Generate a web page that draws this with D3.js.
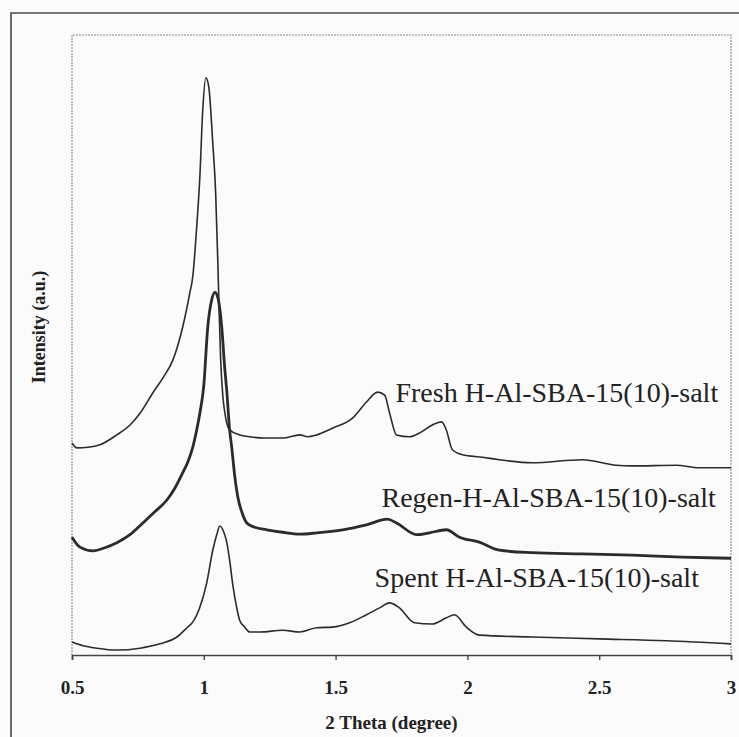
<!DOCTYPE html>
<html>
<head>
<meta charset="utf-8">
<script src="https://cdn.jsdelivr.net/npm/d3@7"></script>
<style>
  html, body { margin: 0; padding: 0; background: #fbfbfb; }
  svg { display: block; }
</style>
</head>
<body>
<div id="chart"></div>
<script>
// ---- data (2 theta in degrees, intensity in arbitrary units) ----
const xTicks = [0.5, 1, 1.5, 2, 2.5, 3];
const xTickLabels = ["0.5", "1", "1.5", "2", "2.5", "3"];
const seriesNames = ["Fresh H-Al-SBA-15(10)-salt", "Regen-H-Al-SBA-15(10)-salt", "Spent H-Al-SBA-15(10)-salt"];

const freshTheta = [0.500,0.519,0.561,0.606,0.670,0.720,0.758,0.807,0.845,0.883,0.920,0.947,0.958,0.973,0.985,0.996,1.008,1.019,1.034,1.045,1.053,1.057,1.064,1.072,1.080,1.098,1.136,1.174,1.231,1.299,1.364,1.394,1.428,1.489,1.564,1.617,1.659,1.686,1.705,1.731,1.780,1.818,1.867,1.902,1.920,1.943,1.981,2.057,2.121,2.246,2.436,2.564,2.625,2.792,2.879,3.000];
const freshI     = [34.2,33.4,33.5,33.9,35.5,37.1,39.0,42.3,44.7,47.6,52.9,58.4,61.0,69.0,77.1,87.9,93.1,91.6,82.6,74.5,63.7,57.3,47.6,41.9,39.0,36.3,35.5,35.2,35.0,35.0,35.5,35.2,35.5,36.6,38.2,40.8,42.4,41.9,39.0,35.5,35.2,35.8,37.1,37.6,36.3,33.1,32.3,31.9,31.5,31.0,31.5,30.6,30.5,30.6,30.2,30.2];

const regenTheta = [0.500,0.530,0.580,0.625,0.670,0.720,0.769,0.814,0.860,0.890,0.920,0.939,0.958,0.973,0.985,1.000,1.015,1.030,1.042,1.053,1.068,1.080,1.087,1.098,1.106,1.117,1.129,1.144,1.163,1.193,1.239,1.299,1.364,1.428,1.527,1.617,1.697,1.731,1.807,1.856,1.920,1.970,2.045,2.121,2.246,2.436,2.625,2.814,3.000];
const regenI     = [19.0,17.4,16.8,17.3,18.1,19.4,21.3,23.1,25.0,26.9,29.4,31.1,33.5,36.3,39.0,43.5,52.9,57.3,58.5,57.7,52.9,46.0,42.7,36.3,33.5,29.0,25.5,23.1,21.3,20.6,20.2,19.8,19.5,19.7,20.2,21.0,21.9,21.3,19.4,19.7,20.2,19.0,18.2,16.9,16.5,16.3,16.1,15.8,15.6];

const spentTheta = [0.500,0.542,0.595,0.670,0.758,0.833,0.898,0.936,0.958,0.985,1.011,1.034,1.049,1.061,1.076,1.087,1.098,1.110,1.125,1.136,1.155,1.174,1.212,1.299,1.364,1.428,1.489,1.553,1.617,1.667,1.705,1.742,1.799,1.867,1.920,1.951,1.996,2.045,2.246,2.500,2.754,3.000];
const spentI     = [2.1,1.5,1.1,0.8,1.1,1.8,2.9,4.4,5.3,7.7,11.6,16.9,19.4,20.8,19.8,18.2,15.3,11.3,7.6,5.6,4.5,3.7,3.7,4.0,3.7,4.4,4.5,5.2,6.5,7.6,8.4,7.6,5.2,5.0,6.0,6.5,4.5,3.2,2.9,2.6,2.3,1.8];

// ---- layout ----
const W = 739, H = 737;
const plot = { left: 72, right: 731, top: 35, bottom: 655 };

const svg = d3.select("#chart").append("svg")
  .attr("width", W).attr("height", H)
  .style("font-family", "'Liberation Serif', 'DejaVu Serif', serif");

svg.append("rect").attr("width", W).attr("height", H).attr("fill", "#fbfbfb");

// outer frame (extends beyond the page at right and bottom)
svg.append("path")
  .attr("d", `M11,${H + 5} L11,13 L${W + 5},13`)
  .attr("fill", "none").attr("stroke", "#4a4a4a").attr("stroke-width", 1.6);

const x = d3.scaleLinear().domain([0.5, 3]).range([plot.left, plot.right]);
const y = d3.scaleLinear().domain([0, 100]).range([plot.bottom, plot.top]);

// plot area border (dotted, grey) on left, top, right
svg.append("path")
  .attr("d", `M${plot.left},${plot.bottom} L${plot.left},${plot.top} L${plot.right},${plot.top} L${plot.right},${plot.bottom}`)
  .attr("fill", "none").attr("stroke", "#8a8a8a").attr("stroke-width", 1.1)
  .attr("stroke-dasharray", "2,1");

// x axis
const xAxis = d3.axisBottom(x)
  .tickValues(xTicks)
  .tickFormat((d, i) => xTickLabels[i])
  .tickSize(5)
  .tickPadding(21);

const gx = svg.append("g")
  .attr("transform", `translate(0,${plot.bottom})`)
  .call(xAxis);
gx.select(".domain").attr("stroke", "#444").attr("stroke-width", 1.6);
gx.selectAll(".tick line").attr("stroke", "#444").attr("stroke-width", 1.4);
gx.selectAll(".tick text")
  .attr("fill", "#222")
  .style("font-family", "'Liberation Serif', serif")
  .style("font-weight", "bold")
  .style("font-size", "19px");

// axis titles
svg.append("text")
  .attr("x", (plot.left + plot.right) / 2 - 10)
  .attr("y", 729)
  .attr("text-anchor", "middle")
  .attr("fill", "#222")
  .style("font-weight", "bold")
  .style("font-size", "19px")
  .text("2 Theta (degree)");

svg.append("text")
  .attr("transform", "translate(45,327) rotate(-90)")
  .attr("text-anchor", "middle")
  .attr("fill", "#222")
  .style("font-weight", "bold")
  .style("font-size", "18px")
  .text("Intensity (a.u.)");

// series lines
const line = d3.line()
  .x(d => x(d[0]))
  .y(d => y(d[1]))
  .curve(d3.curveMonotoneX);

const series = [
  { theta: freshTheta, I: freshI, width: 1.6 },
  { theta: regenTheta, I: regenI, width: 2.8 },
  { theta: spentTheta, I: spentI, width: 1.6 }
];

series.forEach(s => {
  const pts = s.theta.map((t, i) => [t, s.I[i]]);
  svg.append("path")
    .datum(pts)
    .attr("d", line)
    .attr("fill", "none")
    .attr("stroke", "#2b2b2b")
    .attr("stroke-width", s.width)
    .attr("stroke-linejoin", "round");
});

// series labels (anchored at left baseline)
const labelPos = [
  { theta: 1.727, I: 40.8 },
  { theta: 1.674, I: 23.9 },
  { theta: 1.648, I: 10.9 }
];
seriesNames.forEach((name, i) => {
  svg.append("text")
    .attr("x", x(labelPos[i].theta))
    .attr("y", y(labelPos[i].I))
    .attr("fill", "#222")
    .style("font-size", "28px")
    .text(name);
});
</script>
</body>
</html>
